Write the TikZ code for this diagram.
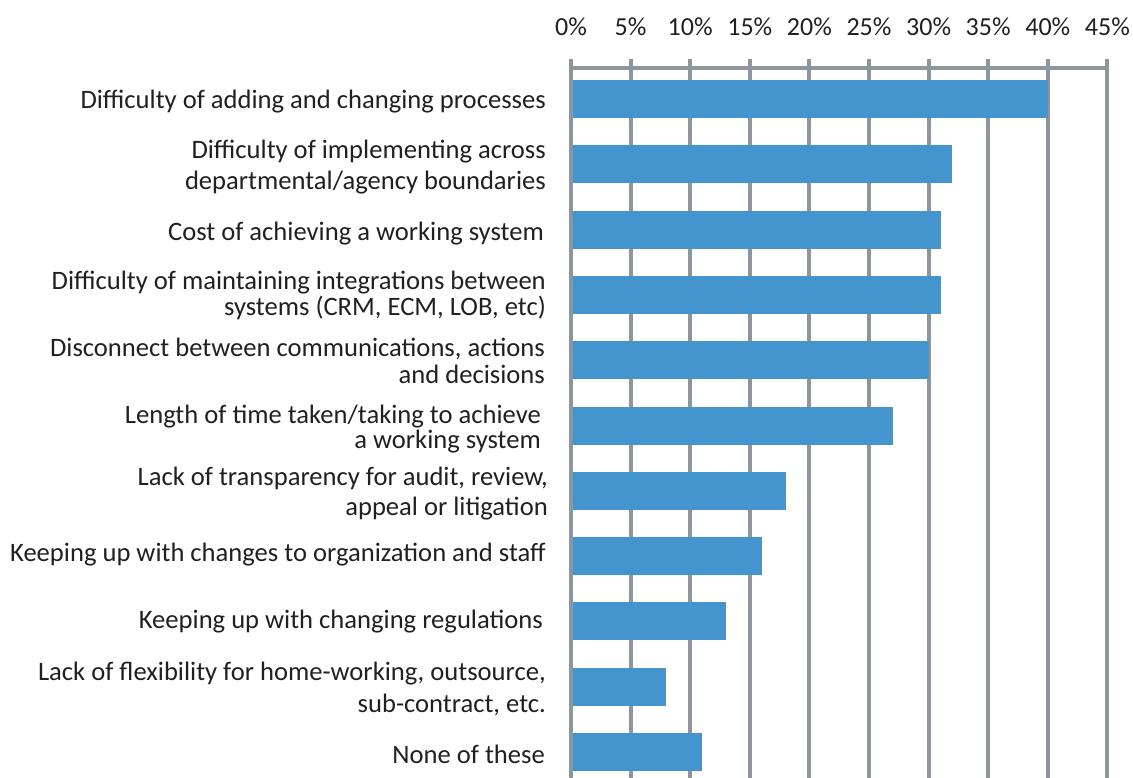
\documentclass[tikz,border=0pt]{standalone}
\usepackage{fontspec}
\setmainfont{Carlito}
\definecolor{gridgray}{HTML}{8D969D}
\definecolor{barblue}{HTML}{4494CD}
\definecolor{txt}{HTML}{231F20}
\begin{document}
\begin{tikzpicture}[x=1pt,y=-1pt,
  gridline/.style={draw=gridgray,line width=4pt},
  barbox/.style={fill=barblue},
  lab/.style={anchor=east,align=right,font=\fontsize{26.6}{28}\selectfont,text=txt,inner sep=0pt,yshift=-2pt},
  pct/.style={font=\fontsize{26}{28}\selectfont,text=txt,inner sep=0pt}]
\useasboundingbox (0,0) rectangle (1133,778);
% grid and axis labels
\foreach \i/\p in {0/0,1/5,2/10,3/15,4/20,5/25,6/30,7/35,8/40,9/45} {
  \coordinate (g\i) at (571+59.6*\i,59);
  \coordinate (gb\i) at (571+59.6*\i,778);
  \draw[gridline] (g\i) -- (gb\i);
  \node[pct] (p\i) at (571+59.6*\i,27) {\p\%};
}
\coordinate (axl) at (571,68);
\coordinate (axr) at (1107,68);
\draw[gridline] (axl) -- (axr);
% bars
\foreach \k/\v in {0/40,1/32,2/31,3/31,4/30,5/27,6/18,7/16,8/13,9/8,10/11} {
  \fill[barbox] (573,80+65.3*\k) rectangle (571+11.92*\v,118+65.3*\k);
}
% labels
\node[lab] (l1) at (546,100) {Difficulty of adding and changing processes};
\node[lab] (l2) at (546,165.5) {Difficulty of implementing across\\[3pt]departmental/agency boundaries};
\node[lab] (l3) at (544,232) {Cost of achieving a working system};
\node[lab] (l4) at (546,293) {Difficulty of maintaining integrations between\\[-2pt]systems (CRM, ECM, LOB, etc)};
\node[lab] (l5) at (545,358.5) {Disconnect between communications, actions\\[-1pt]and decisions\hspace{4pt}};
\node[lab] (l6) at (541,427.5) {Length of time taken/taking to achieve\\[-3pt]a working system};
\node[lab] (l7) at (548,492) {Lack of transparency for audit, review,\\[2pt]appeal or litigation};
\node[lab] (l8) at (546,553) {Keeping up with changes to organization and staff};
\node[lab] (l9) at (543,620) {Keeping up with changing regulations};
\node[lab] (l10) at (546,687) {Lack of flexibility for home-working, outsource,\\[4pt]sub-contract, etc.};
\node[lab] (l11) at (545,752) {None of these};
\end{tikzpicture}
\end{document}
